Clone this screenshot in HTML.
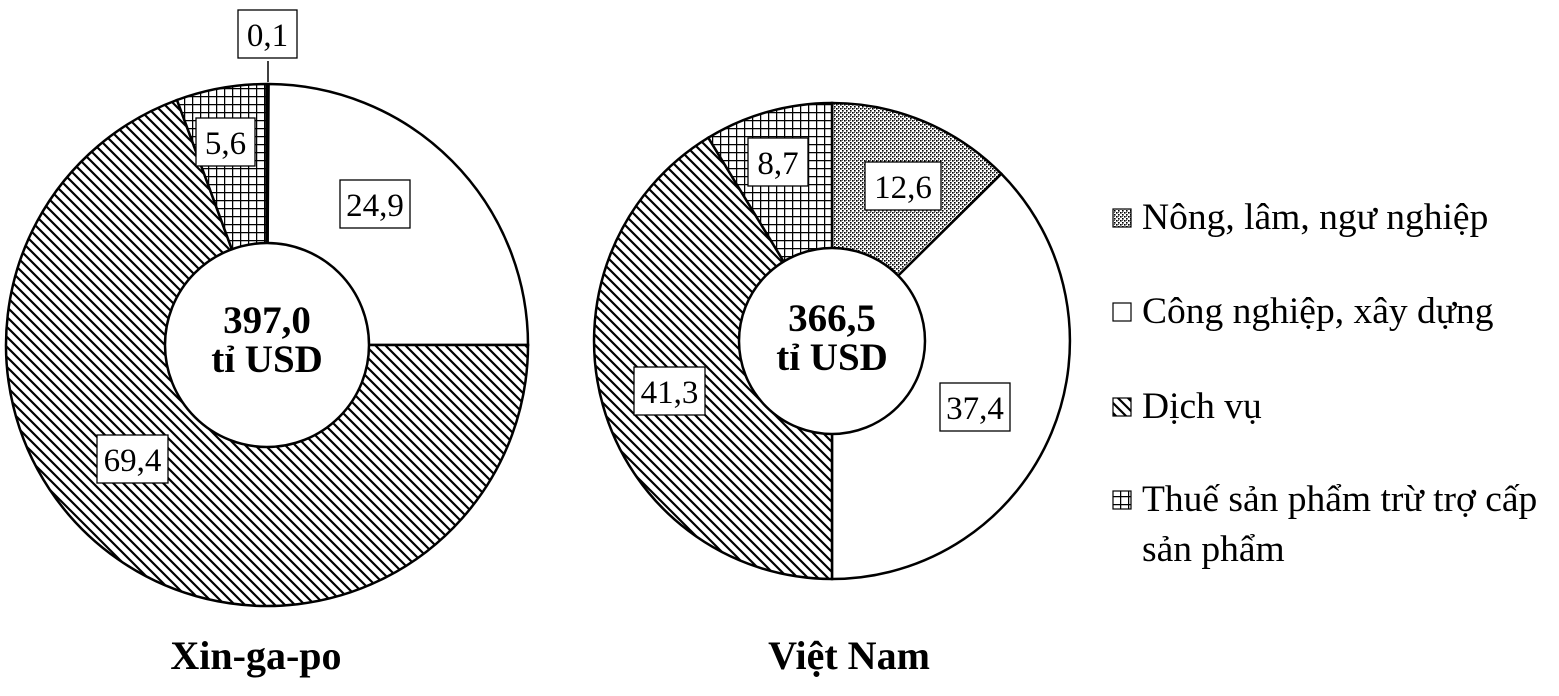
<!DOCTYPE html>
<html><head><meta charset="utf-8"><style>
html,body{margin:0;padding:0;background:#fff}
svg{display:block}
text{font-family:"Liberation Serif","DejaVu Serif",serif;fill:#000}
</style></head><body>
<svg width="1559" height="696" viewBox="0 0 1559 696" xmlns="http://www.w3.org/2000/svg">
<defs>
<pattern id="grid" width="8" height="8" patternUnits="userSpaceOnUse">
<rect width="8" height="8" fill="#fff"/>
<path d="M0,0.6H8M0.6,0V8" stroke="#000" stroke-width="1.3"/>
</pattern>
<pattern id="hatch" width="10" height="10" patternUnits="userSpaceOnUse">
<rect width="10" height="10" fill="#fff"/>
<path d="M-2,-2L12,12M-2,8L2,12M8,-2L12,2" stroke="#000" stroke-width="2.2"/>
</pattern>
<pattern id="dots" width="4" height="4" patternUnits="userSpaceOnUse">
<rect width="4" height="4" fill="#fff"/>
<rect x="0" y="0" width="1.6" height="1.6" fill="#000"/>
<rect x="2" y="2" width="1.6" height="1.6" fill="#000"/>
<rect x="2" y="0" width="1" height="1" fill="#555"/>
</pattern>
</defs>
<g stroke="#000" stroke-width="2.5" stroke-linejoin="miter">
<path d="M267,345 L268.6,84 A261,261 0 0 1 528,345 Z" fill="#fff"/>
<path d="M267,345 L528,345 A261,261 0 1 1 177,100 Z" fill="url(#hatch)"/>
<path d="M267,345 L177,100 A261,261 0 0 1 267,84 Z" fill="url(#grid)"/>
<line x1="267" y1="84" x2="267" y2="250" stroke-width="3.5"/>
<circle cx="267" cy="345" r="102" fill="#fff"/>
<path d="M832,341 L832,103 A238,238 0 0 1 1001.3,173.8 Z" fill="url(#dots)"/>
<path d="M832,341 L1001.3,173.8 A238,238 0 0 1 832,579 Z" fill="#fff"/>
<path d="M832,341 L832,579 A238,238 0 0 1 708.3,137.7 Z" fill="url(#hatch)"/>
<path d="M832,341 L708.3,137.7 A238,238 0 0 1 832,103 Z" fill="url(#grid)"/>
<circle cx="832" cy="341" r="93" fill="#fff"/>
</g>
<line x1="268" y1="61" x2="268" y2="82" stroke="#000" stroke-width="1.5"/>
<g stroke="#000" stroke-width="1.3" fill="#fff">
<rect x="238" y="10" width="59" height="48"/>
<rect x="196" y="118" width="59" height="48"/>
<rect x="340" y="180" width="70" height="48"/>
<rect x="97" y="435" width="71" height="48"/>
<rect x="748" y="138" width="60" height="48"/>
<rect x="865" y="162" width="76" height="48"/>
<rect x="634" y="367" width="71" height="48"/>
<rect x="940" y="383" width="70" height="48"/>
</g>
<g font-size="33" text-anchor="middle">
<text x="267.5" y="46">0,1</text>
<text x="225.5" y="154">5,6</text>
<text x="375" y="216">24,9</text>
<text x="132.5" y="471">69,4</text>
<text x="778" y="174">8,7</text>
<text x="903" y="198">12,6</text>
<text x="669.5" y="403">41,3</text>
<text x="975" y="419">37,4</text>
</g>
<g font-size="39" font-weight="bold" text-anchor="middle">
<text x="267" y="333">397,0</text>
<text x="267" y="372">tỉ USD</text>
<text x="832" y="331">366,5</text>
<text x="832" y="370">tỉ USD</text>
<text x="256" y="669" font-size="40">Xin-ga-po</text>
<text x="849" y="669" font-size="40">Việt Nam</text>
</g>
<g stroke="#000" stroke-width="1.2">
<rect x="1113" y="209" width="18" height="18" fill="url(#dots)"/>
<rect x="1113" y="303" width="18" height="18" fill="#fff"/>
<rect x="1113" y="398" width="18" height="18" fill="url(#hatch)"/>
<rect x="1113" y="491" width="18" height="18" fill="url(#grid)"/>
</g>
<g font-size="37.5">
<text x="1142" y="229">Nông, lâm, ngư nghiệp</text>
<text x="1142" y="323">Công nghiệp, xây dựng</text>
<text x="1142" y="418">Dịch vụ</text>
<text x="1142" y="511">Thuế sản phẩm trừ trợ cấp</text>
<text x="1142" y="561">sản phẩm</text>
</g>
</svg>
</body></html>
